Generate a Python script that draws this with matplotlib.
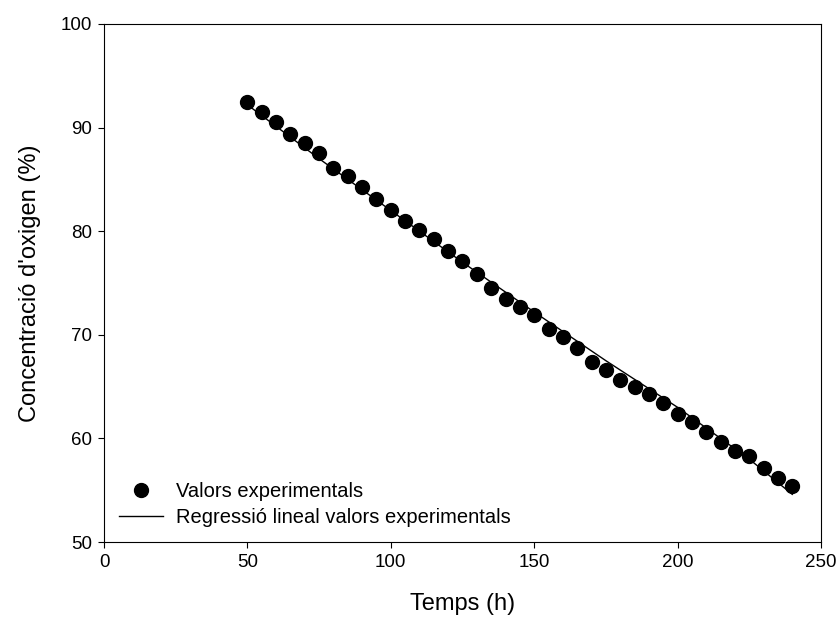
import numpy as np
import matplotlib.pyplot as plt

plt.rcParams['font.family'] = ['Liberation Sans', 'DejaVu Sans']

# experimental values
temps = [50, 55, 60, 65, 70, 75, 80, 85, 90, 95, 100, 105, 110, 115, 120,
         125, 130, 135, 140, 145, 150, 155, 160, 165, 170, 175, 180, 185,
         190, 195, 200, 205, 210, 215, 220, 225, 230, 235, 240]
oxigen = [92.5, 91.5, 90.5, 89.4, 88.5, 87.5, 86.1, 85.3, 84.3, 83.1, 82.0,
          81.0, 80.1, 79.2, 78.1, 77.1, 75.9, 74.5, 73.5, 72.7, 71.9, 70.6,
          69.8, 68.7, 67.4, 66.6, 65.6, 65.0, 64.3, 63.4, 62.4, 61.6, 60.6,
          59.7, 58.8, 58.3, 57.1, 56.2, 55.4]

# regression curve
fit_t = [50, 75, 100, 125, 150, 175, 200, 225, 240]
fit_y = [92.2, 87.0, 82.0, 77.0, 72.2, 67.5, 63.0, 58.0, 54.6]

fig = plt.figure(figsize=(8.39, 6.23), dpi=100)
ax = fig.add_axes([0.124, 0.130, 0.8545, 0.8315])

ax.plot(temps, oxigen, 'o', color='black', markersize=10,
        label='Valors experimentals')
ax.plot(fit_t, fit_y, '-', color='black', linewidth=1,
        label='Regressió lineal valors experimentals')

ax.set_xlim(0, 250)
ax.set_ylim(50, 100)
ax.set_xticks([0, 50, 100, 150, 200, 250])
ax.set_yticks([50, 60, 70, 80, 90, 100])
ax.tick_params(direction='out', length=4.5, labelsize=13.5, pad=4)
ax.set_xlabel('Temps (h)', fontsize=17, labelpad=16)
ax.set_ylabel("Concentració d'oxigen (%)", fontsize=17, labelpad=14)

ax.legend(loc='lower left', frameon=False, fontsize=14.5,
          handlelength=2.2, handletextpad=0.6, labelspacing=0.35,
          borderaxespad=0.35)

fig.savefig('out.png', dpi=100)
